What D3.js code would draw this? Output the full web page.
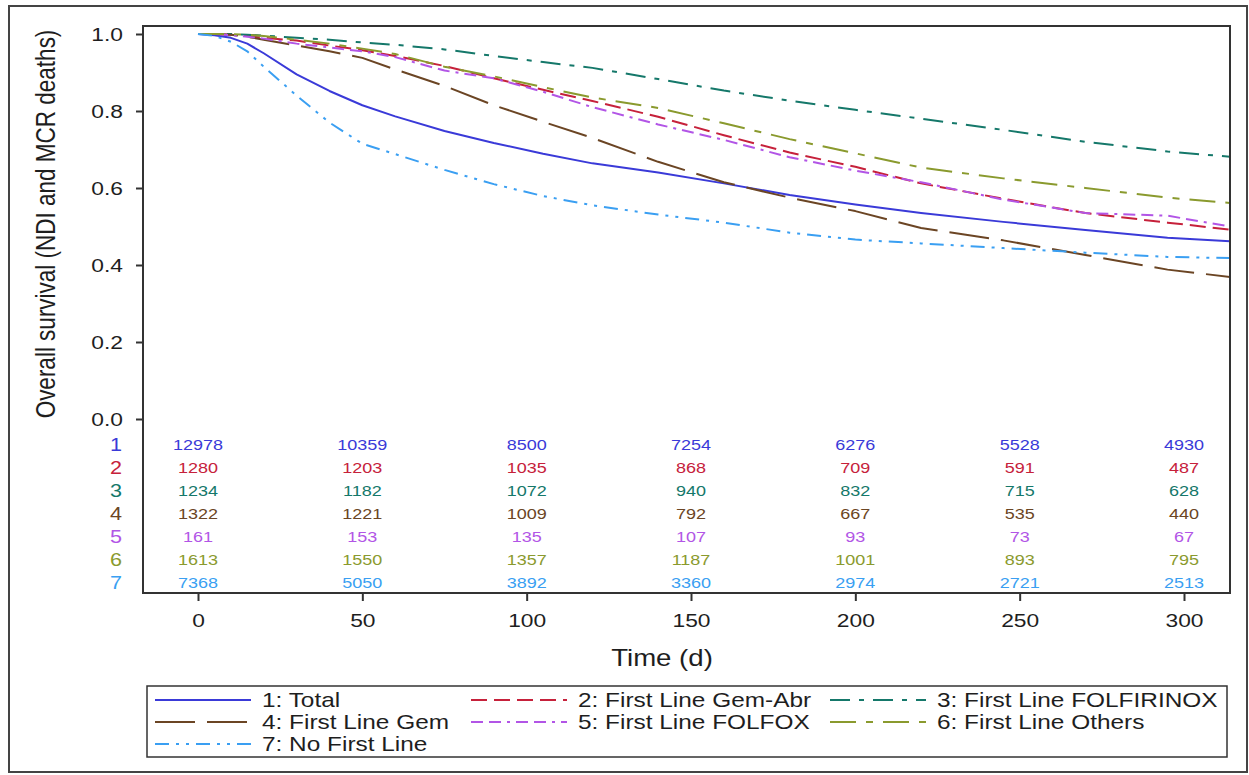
<!DOCTYPE html>
<html>
<head>
<meta charset="utf-8">
<script src="https://cdn.jsdelivr.net/npm/d3@7"></script>
<style>
  body { margin: 0; background: #fff; }
  svg text { fill: #1e1e1e; }
</style>
</head>
<body>
<div id="chart"></div>
<script>
const times = [0, 5, 10, 15, 20, 30, 40, 50, 60, 75, 90, 105, 120, 140, 160, 180, 200, 220, 245, 270, 295, 314];

const sTotal     = [1.0, 0.997, 0.99, 0.975, 0.95, 0.895, 0.852, 0.815, 0.786, 0.748, 0.717, 0.689, 0.664, 0.64, 0.612, 0.582, 0.557, 0.535, 0.512, 0.491, 0.471, 0.462];
const sGemAbr    = [1.0, 1.0, 0.998, 0.995, 0.99, 0.983, 0.97, 0.958, 0.943, 0.917, 0.885, 0.855, 0.826, 0.785, 0.737, 0.692, 0.655, 0.612, 0.572, 0.535, 0.51, 0.492];
const sFolfirinox = [1.0, 1.0, 1.0, 0.998, 0.996, 0.99, 0.985, 0.978, 0.972, 0.96, 0.943, 0.927, 0.912, 0.883, 0.853, 0.827, 0.803, 0.78, 0.751, 0.72, 0.695, 0.681];
const sGem       = [1.0, 1.0, 0.998, 0.993, 0.985, 0.97, 0.955, 0.938, 0.908, 0.865, 0.815, 0.772, 0.73, 0.668, 0.615, 0.575, 0.54, 0.496, 0.464, 0.426, 0.388, 0.369];
const sFolfox    = [1.0, 1.0, 0.997, 0.993, 0.988, 0.975, 0.965, 0.955, 0.94, 0.905, 0.885, 0.85, 0.81, 0.765, 0.725, 0.68, 0.645, 0.615, 0.57, 0.535, 0.528, 0.5];
const sOthers    = [1.0, 1.0, 1.0, 0.998, 0.995, 0.985, 0.975, 0.962, 0.948, 0.915, 0.89, 0.862, 0.835, 0.808, 0.768, 0.727, 0.69, 0.653, 0.625, 0.6, 0.575, 0.561];
const sNoFirst   = [1.0, 0.995, 0.98, 0.955, 0.915, 0.84, 0.77, 0.715, 0.688, 0.647, 0.61, 0.579, 0.555, 0.531, 0.51, 0.484, 0.466, 0.456, 0.444, 0.432, 0.421, 0.418];

const groupNames = ["1: Total", "2: First Line Gem-Abr", "3: First Line FOLFIRINOX", "4: First Line Gem",
                    "5: First Line FOLFOX", "6: First Line Others", "7: No First Line"];
const groupIds = ["1", "2", "3", "4", "5", "6", "7"];

// number at risk
const riskTimes = [0, 50, 100, 150, 200, 250, 300];
const riskTotal     = [12978, 10359, 8500, 7254, 6276, 5528, 4930];
const riskGemAbr    = [1280, 1203, 1035, 868, 709, 591, 487];
const riskFolfirinox = [1234, 1182, 1072, 940, 832, 715, 628];
const riskGem       = [1322, 1221, 1009, 792, 667, 535, 440];
const riskFolfox    = [161, 153, 135, 107, 93, 73, 67];
const riskOthers    = [1613, 1550, 1357, 1187, 1001, 893, 795];
const riskNoFirst   = [7368, 5050, 3892, 3360, 2974, 2721, 2513];

const yTicks = [0, 0.2, 0.4, 0.6, 0.8, 1.0];
const xTicks = [0, 50, 100, 150, 200, 250, 300];

// styles
const colors = ["#3a3ad8", "#c6213b", "#15786a", "#6b4524", "#b255e6", "#8a9a2e", "#3a9ff2"];
const dashes = ["none", "16,7", "20,9,5,9", "40,12", "12,6,12,6,3,6", "26,10,7,10", "14,7,3,7,3,7"];

const curves = [sTotal, sGemAbr, sFolfirinox, sGem, sFolfox, sOthers, sNoFirst];
const risks = [riskTotal, riskGemAbr, riskFolfirinox, riskGem, riskFolfox, riskOthers, riskNoFirst];

const W = 1249, H = 775;
const frame = {left: 143, top: 26, right: 1230, bottom: 593};
const SX = 1.2;   // the original figure is stretched sideways, text included
const FONT = "Liberation Sans, Arial, sans-serif";

const x = d3.scaleLinear().domain([0, 300]).range([198, 1184]);
const y = d3.scaleLinear().domain([0, 1]).range([419, 34]);
const rowY = d3.scalePoint().domain(groupIds).range([445, 583]);

const svg = d3.select("#chart").append("svg")
    .attr("width", W)
    .attr("height", H)
    .attr("font-family", FONT);

// put a text at (tx, ty) with the sideways stretch
function stretched(sel, tx, ty, sx = SX) {
    return sel.attr("transform", `translate(${tx},${ty}) scale(${sx},1)`);
}

// outer border
svg.append("rect")
    .attr("x", 9).attr("y", 6)
    .attr("width", 1238).attr("height", 766)
    .attr("fill", "none")
    .attr("stroke", "#444")
    .attr("stroke-width", 2);

// clip for the curves
svg.append("clipPath").attr("id", "plotclip")
  .append("rect")
    .attr("x", frame.left).attr("y", frame.top)
    .attr("width", frame.right - frame.left).attr("height", frame.bottom - frame.top);

// curves
let line = d3.line()
    .x((d, i) => x(times[i]))
    .y(d => y(d));

const gCurves = svg.append("g").attr("clip-path", "url(#plotclip)");
curves.forEach((c, k) => {
    gCurves.append("path")
        .datum(c)
        .attr("fill", "none")
        .attr("stroke", colors[k])
        .attr("stroke-width", 2)
        .attr("stroke-dasharray", dashes[k])
        .attr("stroke-linejoin", "round")
        .attr("d", line);
});

// plot frame
svg.append("rect")
    .attr("x", frame.left).attr("y", frame.top)
    .attr("width", frame.right - frame.left).attr("height", frame.bottom - frame.top)
    .attr("fill", "none")
    .attr("stroke", "#333")
    .attr("stroke-width", 2);

// y axis
const yAxis = d3.axisLeft(y).tickValues(yTicks).tickFormat(d3.format(".1f")).tickSize(7).tickPadding(0);
const gy = svg.append("g").attr("transform", `translate(${frame.left},0)`).call(yAxis);
gy.select(".domain").remove();
gy.selectAll("line").attr("stroke", "#333").attr("stroke-width", 2);
gy.selectAll("text")
    .attr("font-size", 19).attr("font-family", FONT).attr("fill", "#1e1e1e")
    .attr("x", 0).attr("dy", "0.35em")
    .attr("transform", `translate(-20,0) scale(${SX},1)`);

// x axis
const xAxis = d3.axisBottom(x).tickValues(xTicks).tickSize(8).tickPadding(0);
const gx = svg.append("g").attr("transform", `translate(0,${frame.bottom})`).call(xAxis);
gx.select(".domain").remove();
gx.selectAll("line").attr("stroke", "#333").attr("stroke-width", 2);
gx.selectAll("text")
    .attr("font-size", 19).attr("font-family", FONT).attr("fill", "#1e1e1e")
    .attr("y", 0).attr("dy", "0.35em")
    .attr("transform", `translate(0,27) scale(${SX},1)`);

// axis titles
svg.append("text")
    .attr("dy", "0.35em")
    .attr("text-anchor", "middle")
    .attr("font-size", 23)
    .call(stretched, 662, 658)
    .text("Time (d)");

svg.append("text")
    .attr("transform", `translate(46,224) scale(${SX},1) rotate(-90)`)
    .attr("dy", "0.35em")
    .attr("text-anchor", "middle")
    .attr("font-size", 22.5)
    .text("Overall survival (NDI and MCR deaths)");

// number at risk table
risks.forEach((r, k) => {
    svg.append("text")
        .attr("dy", "0.35em")
        .attr("text-anchor", "middle")
        .attr("font-size", 18)
        .style("fill", colors[k])
        .call(stretched, 116, rowY(groupIds[k]))
        .text(groupIds[k]);
    svg.append("g").selectAll("text")
        .data(r)
        .join("text")
        .attr("transform", (d, i) => `translate(${x(riskTimes[i])},${rowY(groupIds[k])}) scale(${SX},1)`)
        .attr("dy", "0.35em")
        .attr("text-anchor", "middle")
        .attr("font-size", 15)
        .style("fill", colors[k])
        .text(d => d);
});

// legend
const legend = svg.append("g");
legend.append("rect")
    .attr("x", 147).attr("y", 686)
    .attr("width", 1080).attr("height", 71)
    .attr("fill", "none")
    .attr("stroke", "#333")
    .attr("stroke-width", 1.5);

const colX = [155, 471, 830];
const rowLY = [700, 722, 744];
groupNames.forEach((name, k) => {
    let cx = colX[k % 3], cy = rowLY[Math.floor(k / 3)];
    legend.append("line")
        .attr("x1", cx).attr("x2", cx + 96)
        .attr("y1", cy).attr("y2", cy)
        .attr("stroke", colors[k])
        .attr("stroke-width", 2)
        .attr("stroke-dasharray", dashes[k]);
    legend.append("text")
        .attr("dy", "0.35em")
        .attr("font-size", 20)
        .call(stretched, cx + 107, cy, 1.22)
        .text(name);
});
</script>
</body>
</html>
